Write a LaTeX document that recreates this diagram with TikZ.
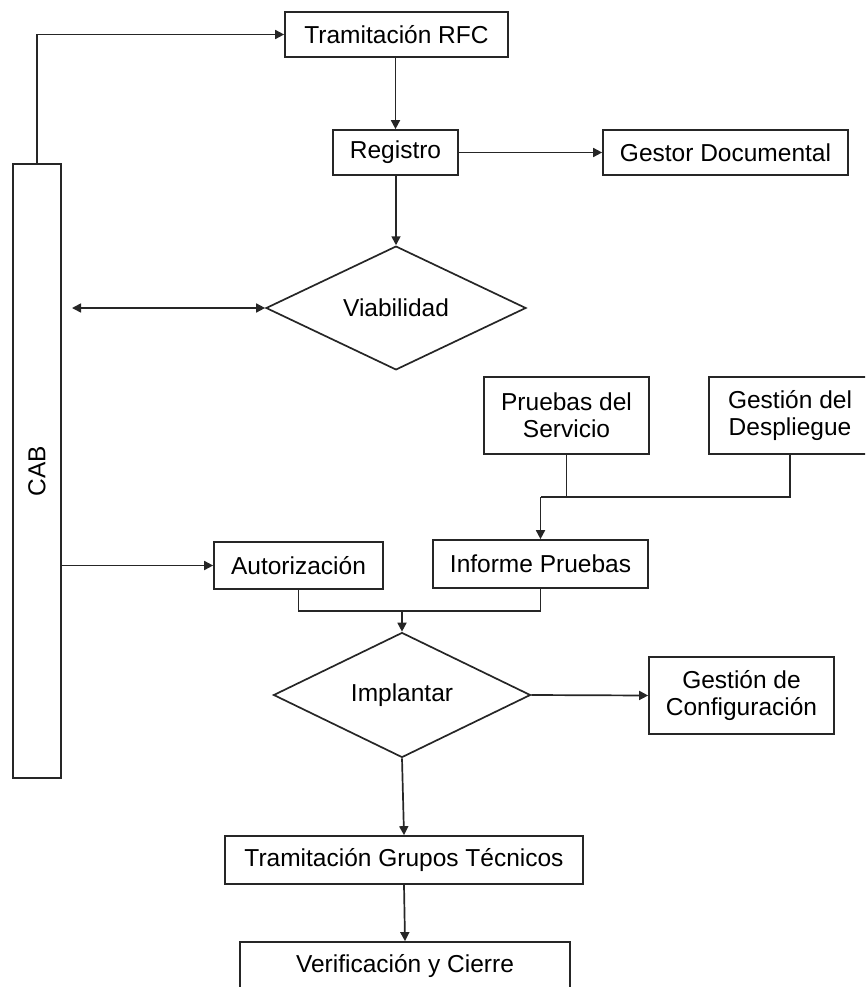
\documentclass[tikz,border=0pt]{standalone}
\usepackage{fontspec}
\setmainfont{Liberation Sans}
\usetikzlibrary{shapes.geometric,arrows.meta}

\begin{document}
\begin{tikzpicture}[x=1pt,y=-1pt,
  every node/.style={font=\fontsize{24.5}{27}\selectfont, text=black},
  box/.style={draw=black!85, line width=1.7pt, inner sep=0pt, align=center, fill=white},
  dia/.style={draw=black!85, line width=1.7pt, diamond, inner sep=0pt, align=center},
  link/.style={draw=black!85, line width=1.7pt},
  arr/.style={link, -{Triangle[length=9pt,width=9pt]}},
  dbl/.style={link, {Triangle[length=9pt,width=9pt]}-{Triangle[length=9pt,width=9pt]}},
]
\useasboundingbox (0,0) rectangle (865,987);
\clip (0,0) rectangle (865,987);

% process boxes
\node[box, minimum width=223pt, minimum height=45pt] (tram) at (396.5,34.5) {Tramitación RFC};
\node[box, minimum width=125pt, minimum height=45pt] (reg) at (395.5,152.5) {Registro};
\node[box, minimum width=245pt, minimum height=45pt] (gestor) at (725.5,152.5) {Gestor Documental};
\node[dia, minimum width=260pt, minimum height=118pt] (viab) at (396,308) {Viabilidad};
\node[box, minimum width=165pt, minimum height=77pt] (pruebas) at (566.5,415.5) {Pruebas del\\Servicio};
\node[box, minimum width=162pt, minimum height=77pt] (despl) at (790,415.5) {Gestión del\\Despliegue};
\node[box, minimum width=215pt, minimum height=48pt] (informe) at (540.5,564) {Informe Pruebas};
\node[box, minimum width=169pt, minimum height=47pt] (autor) at (298.5,565.5) {Autorización};
\node[dia, minimum width=257pt, minimum height=116pt] (impl) at (402,695) {Implantar};
\node[box, minimum width=185pt, minimum height=77pt] (config) at (741.5,695.5) {Gestión de\\Configuración};
\node[box, minimum width=358pt, minimum height=48pt] (tgt) at (404,860) {Tramitación Grupos Técnicos};
\node[box, minimum width=330pt, minimum height=48pt] (verif) at (405,966) {Verificación y Cierre};

% CAB side bar
\node[box, minimum width=614pt, minimum height=48pt, rotate=90] (cab) at (37,471) {CAB};

% junction points
\coordinate (vl) at (72,308);
\coordinate (j1) at (540.5,497);
\coordinate (j2) at (402,611);

% connectors
\draw[arr] (cab.east) |- (tram.west);
\draw[arr] (tram.south -| reg.north) -- (reg.north);
\draw[arr] (reg.east) -- (gestor.west);
\draw[arr] (reg.south -| viab.north) -- (viab.north);
\draw[dbl] (vl) -- (viab.west);

\draw[link] (pruebas.south) -- (pruebas.south |- j1);
\draw[link] (despl.south) |- (j1);
\draw[arr] (j1) -- (informe.north);

\draw[arr] (cab.south |- autor.west) -- (autor.west);
\draw[link] (autor.south) |- (informe.south |- j2) -- (informe.south);
\draw[arr] (j2) -- (impl.north);

\draw[arr] (impl.east) -- (config.west);
\draw[arr] (impl.south) -- (tgt.north);
\draw[arr] (tgt.south) -- (verif.north);
\end{tikzpicture}
\end{document}
